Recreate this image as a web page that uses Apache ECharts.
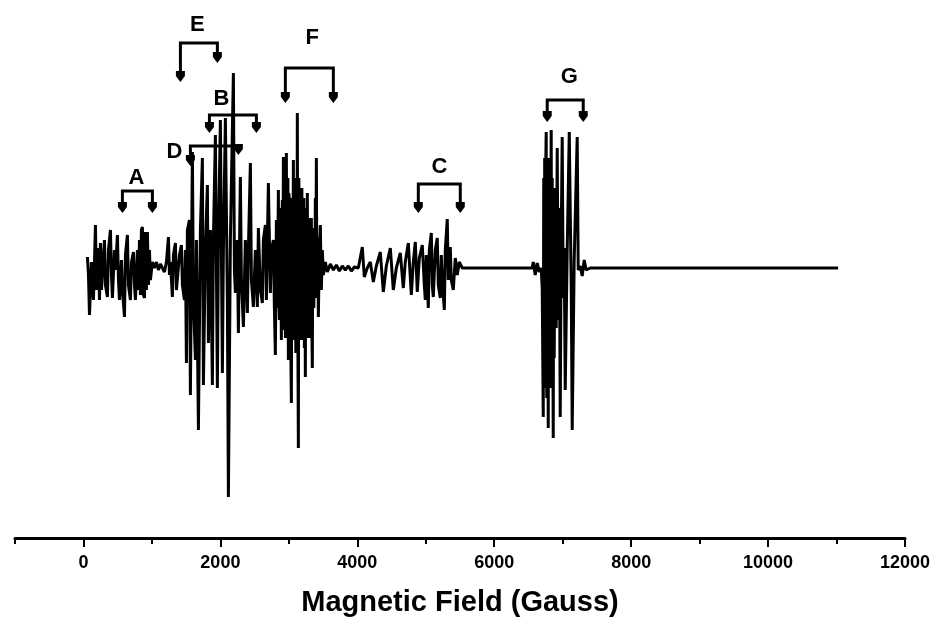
<!DOCTYPE html>
<html>
<head>
<meta charset="utf-8">
<title>Magnetic Field spectrum</title>
<script src="https://cdn.jsdelivr.net/npm/echarts@6/dist/echarts.min.js"></script>
<style>
  html, body { margin: 0; padding: 0; background: #fff; }
  #chart { width: 943px; height: 618px; }
</style>
</head>
<body>
<div id="chart"></div>
<script>
  // field (Gauss) and signal (arbitrary units)
  var field = [
    58, 73, 88, 117, 146, 175, 190, 219, 234, 248, 263, 292, 307, 321, 350, 365, 394, 409, 423, 453,
    467, 496, 511, 526, 555, 569, 599, 613, 642, 657, 686, 701, 730, 745, 759, 788, 803, 818, 832, 847,
    861, 876, 891, 905, 920, 934, 949, 964, 978, 1007, 1037, 1066, 1095, 1124, 1153, 1183, 1212,
    1241, 1256, 1270, 1299, 1314, 1343, 1358, 1387, 1402, 1431, 1445, 1475,
    1489, 1504, 1518, 1548, 1562, 1591, 1606, 1635, 1650, 1679, 1708, 1737, 1752, 1781, 1810, 1825,
    1854, 1883, 1898, 1927, 1956, 1971, 2000, 2029, 2044, 2073, 2102, 2117, 2146, 2190, 2205, 2219,
    2248, 2263, 2292, 2307, 2336, 2365, 2394, 2409, 2438, 2453, 2482, 2511, 2540, 2555, 2584, 2613,
    2628, 2657, 2672, 2701, 2730, 2745,
    2774, 2789, 2803, 2818, 2833, 2847, 2855, 2862, 2876, 2891,
    2898, 2905, 2913, 2920, 2935, 2942, 2950, 2964, 2971, 2978,
    2986, 2993, 3000, 3008, 3015, 3022, 3030, 3037, 3044, 3051,
    3058, 3066, 3073, 3081, 3088, 3095, 3102, 3110, 3117, 3124,
    3131, 3139, 3146, 3154, 3161, 3168, 3176, 3183, 3190, 3197,
    3205, 3212, 3219, 3227, 3234, 3241, 3248, 3256, 3263, 3270,
    3278, 3285, 3292, 3300, 3307, 3314, 3321, 3329, 3336, 3343,
    3350, 3358, 3365, 3373, 3380, 3387, 3395, 3402, 3409, 3416,
    3424, 3431,
    3446, 3460, 3475, 3489, 3504,
    3533, 3562, 3606, 3650, 3694, 3738, 3781, 3825, 3869, 3913, 3957,
    4015, 4073, 4102, 4146, 4190, 4234, 4278, 4336, 4380, 4424, 4482, 4526, 4570, 4628, 4672, 4701,
    4745, 4789, 4818, 4847, 4876, 4906, 4949, 4979, 4993, 5008, 5037, 5052, 5081, 5095, 5110, 5139,
    5168, 5183, 5212, 5227, 5241, 5271, 5285, 5314, 5329, 5358, 5373, 5402, 5431, 5460, 5489, 5533,
    6088, 6555, 6570, 6599, 6628, 6657, 6686,
    6701, 6716, 6723, 6730, 6737, 6745, 6752, 6759, 6767, 6774,
    6789, 6796, 6803, 6810, 6818, 6832, 6840, 6847, 6862, 6869,
    6876, 6891, 6905, 6920, 6935, 6950, 6964, 6978, 6993, 7008,
    7022, 7037, 7066, 7096, 7125, 7139, 7168, 7212,
    7227, 7256, 7285, 7314, 7343, 7402, 11023
  ];
  var signal = [
    11, -7, -47, 6, -32, 43, -22, 20, -32, 25, -22, 13, 28, -17, -29, 18, 38, -7, -30, 18,
    -2, 33, -12, -32, 8, -22, -49, 13, 33, -17, -32, 6, 16, -17, -32, 18, -22, 28, -27, 38,
    41, -27, -30, 36, -22, 36, -17, 18, -12, 6, 0, 6, -2, 4, 0, -4, 6,
    31, -7, 6, -29, 13, 25, -22, -24, 13, 23, -17, -32,
    18, -95, 38, 48, -127, 116, -32, -92, 28, -162, 38, 110, -117, 18, 83, -75,
    38, -117, 28, 133, -120, 28, 148, -105, 18, 150, -32, -229, 28, 195, -2, -25,
    28, -65, 91, -12, -59, 28, -45, 18, 105, -12, -39, 18, -39, 40, -22, -35,
    28, 43, -32, 85, -25, 18,
    28, -40, -87, 48, -40, 78, -30, -52, 60, -72,
    40, 68, -50, 111, -62, 80, -70, 115, -40, -52,
    90, -92, 75, 68, -80, 70, -90, -135, 60, 38,
    -60, 108, -50, -72, 90, 68, -85, 80, -70, 155,
    -60, -180, 90, 38, -60, 68, -50, -72, 80, 81,
    -70, -52, 70, -80, 60, -109, 50, 48, -60, 75,
    -70, -32, 50, -65, 40, 28, -70, 50, -60, -100,
    40, 18, -40, 38, -30, 70, -20, 110, -30, -12,
    30, -49,
    18, 43, -22, 18, -7,
    6, -4, 4, -2, 3, -3, 2, -2, 2, -3, 1,
    0, 21, -9, 0, 6, -14, 2, 16, -24, 2, 20, -22, 0, 15, -20, 6,
    25, -27, 6, 26, -24, 10, 23, -17, -32, 13, -40, 18, 35, -17, -29, 18,
    30, -17, -30, 13, -12, -42, 18, 49, -12, 21, -12, -22, 10, -7, 6, 0,
    0, 0, 6, -7, 5, -4, 0,
    -20, -149, 90, -100, 110, -120, 100, 136, -130, 80,
    -160, 110, -90, 100, -120, 138, -100, 90, -170, 60,
    -90, 80, -60, 120, -52, 60, -149, 28, 131, -30,
    20, -122, 18, 136, -22, -162, 8, 131,
    -2, 2, -8, 8, -2, 0, 0
  ];

  // bracket annotations: start, end, bracket top, left / right arrow tips
  var bracketNames = ['A', 'E', 'B', 'D', 'F', 'C', 'G'];
  var bracketStart = [569, 1416, 1840, 1562, 2949, 4891, 6774];
  var bracketEnd = [1007, 1956, 2526, 2263, 3650, 5504, 7300];
  var bracketTop = [77, 225, 153, 122, 200, 84, 168];
  var leftTip = [55, 186, 135, 102, 165, 55, 146];
  var rightTip = [55, 205, 135, 113, 165, 55, 146];
  var labelX = [774, 1664, 2015, 1329, 3343, 5198, 7096];
  var labelY = [90, 243, 169, 116, 230, 101, 191];

  var majorTicks = [0, 2000, 4000, 6000, 8000, 10000, 12000];
  var minorTicks = [-1000, 1000, 3000, 5000, 7000, 9000, 11000];

  var traceData = field.map(function (f, i) { return [f, signal[i]]; });
  var bracketData = bracketNames.map(function (n, i) {
    return [bracketStart[i], bracketEnd[i], bracketTop[i], leftTip[i], rightTip[i], labelX[i], labelY[i], n];
  });

  function arrowHead(p) {
    return {
      type: 'polygon',
      shape: { points: [[p[0] - 4.5, p[1] - 11], [p[0] + 4.5, p[1] - 11], [p[0] + 4.5, p[1] - 6], [p[0], p[1]], [p[0] - 4.5, p[1] - 6]] },
      style: { fill: '#000' }
    };
  }

  function renderBracket(params, api) {
    var p1 = api.coord([api.value(0), api.value(3)]);
    var p2 = api.coord([api.value(0), api.value(2)]);
    var p3 = api.coord([api.value(1), api.value(2)]);
    var p4 = api.coord([api.value(1), api.value(4)]);
    var lp = api.coord([api.value(5), api.value(6)]);
    return {
      type: 'group',
      children: [
        {
          type: 'polyline',
          shape: { points: [[p1[0], p1[1] - 8], p2, p3, [p4[0], p4[1] - 8]] },
          style: { stroke: '#000', lineWidth: 3, fill: null }
        },
        arrowHead(p1),
        arrowHead(p4),
        {
          type: 'text',
          x: lp[0],
          y: lp[1],
          style: {
            text: bracketData[params.dataIndex][7],
            fill: '#000',
            font: 'bold 22px "Liberation Sans", Arial, sans-serif',
            align: 'center',
            verticalAlign: 'middle'
          }
        }
      ]
    };
  }

  var chart = echarts.init(document.getElementById('chart'));
  chart.setOption({
    animation: false,
    backgroundColor: '#fff',
    grid: { left: 15, right: 38, top: 20, bottom: 80, containLabel: false, outerBoundsMode: 'none' },
    xAxis: [
      {
        type: 'value',
        min: -1000,
        max: 12000,
        position: 'bottom',
        splitLine: { show: false },
        axisLine: { show: true, onZero: false, lineStyle: { color: '#000', width: 3 } },
        axisTick: { show: true, customValues: majorTicks, length: 9, lineStyle: { color: '#000', width: 2 } },
        axisLabel: {
          customValues: majorTicks,
          formatter: function (v) { return String(v); },
          color: '#000',
          fontFamily: 'Liberation Sans',
          fontWeight: 'bold',
          fontSize: 18,
          margin: 16
        },
        name: 'Magnetic Field (Gauss)',
        nameLocation: 'middle',
        nameGap: 50,
        nameTextStyle: { color: '#000', fontFamily: 'Liberation Sans', fontWeight: 'bold', fontSize: 29 }
      },
      {
        type: 'value',
        min: -1000,
        max: 12000,
        position: 'bottom',
        splitLine: { show: false },
        axisLine: { show: false, onZero: false },
        axisTick: { show: true, customValues: minorTicks, length: 6, lineStyle: { color: '#000', width: 2 } },
        axisLabel: { show: false }
      }
    ],
    yAxis: {
      type: 'value',
      min: -270,
      max: 248,
      show: false
    },
    series: [
      {
        type: 'line',
        data: traceData,
        showSymbol: false,
        lineStyle: { color: '#000', width: 3 },
        z: 2
      },
      {
        type: 'custom',
        data: bracketData,
        renderItem: renderBracket,
        clip: false,
        z: 3
      }
    ]
  });
</script>
</body>
</html>
